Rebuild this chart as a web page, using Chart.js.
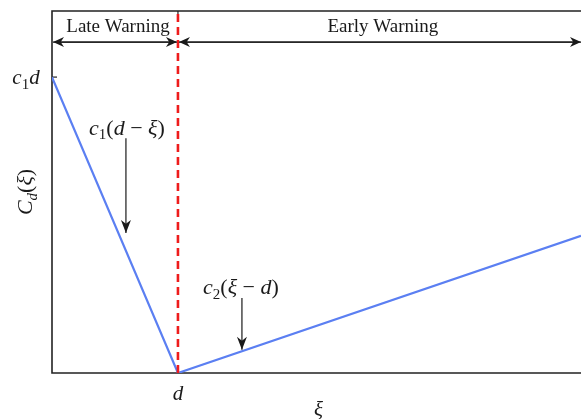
<!DOCTYPE html>
<html><head><meta charset="utf-8">
<script src="https://cdn.jsdelivr.net/npm/chart.js@4"></script>
<style>html,body{margin:0;padding:0;background:#fff;overflow:hidden}</style>
</head><body>
<canvas id="c" width="581" height="419"></canvas>
<script>
// ---- data ----
const xiValues   = [0, 1, 4.2];        // xi positions: 0, d, right edge
const costValues = [3, 0, 1.39];       // C_d(xi): c1*d at 0, 0 at d, rising with slope c2
const boundaryX  = [1, 1];             // xi = d (red dashed boundary)
const boundaryY  = [0, 3.67];
const xTickValues = [1];               // label "d"
const yTickValues = [3];               // label "c1 d"
const xMin = 0, xMax = 4.2, yMin = 0, yMax = 3.67;
const regionLabels = ['Late Warning', 'Early Warning'];
const regionLabelX = [0.524, 2.627];
const regionLabelY = 3.507;
const regionArrowY = 3.355;
// annotation arrows and label positions (data units)
const ann1 = {x: 0.587, y0: 2.38, y1: 1.42, ly: 2.49, lx: 0.595};
const ann2 = {x: 1.508, y0: 0.76, y1: 0.235, ly: 0.87, lx: 1.50};

const SERIF = '"Liberation Serif","DejaVu Serif",serif';
function richText(ctx, parts, cx, cy, size, align) {
  const fonts = {
    i: `italic ${size}px ${SERIF}`,
    r: `${size}px ${SERIF}`,
    s: `${Math.round(size*0.7)}px ${SERIF}`,
    si: `italic ${Math.round(size*0.7)}px ${SERIF}`
  };
  let total = 0;
  const widths = parts.map(p => { ctx.font = fonts[p[1]]; const w = ctx.measureText(p[0]).width; total += w; return w; });
  let x = align === 'left' ? cx : cx - total/2;
  ctx.textBaseline = 'alphabetic';
  ctx.textAlign = 'left';
  const base = cy + size*0.33;
  parts.forEach((p, i) => {
    ctx.font = fonts[p[1]];
    const dy = (p[1] === 's' || p[1] === 'si') ? size*0.22 : 0;
    ctx.fillText(p[0], x, base + dy);
    x += widths[i];
  });
}
function arrowHead(ctx, x, y, ang, len, half) {
  ctx.save();
  ctx.translate(x, y); ctx.rotate(ang);
  ctx.beginPath();
  ctx.moveTo(0, 0);
  ctx.lineTo(-len, -half);
  ctx.lineTo(-len*0.7, 0);
  ctx.lineTo(-len, half);
  ctx.closePath();
  ctx.fill();
  ctx.restore();
}
function arrow(ctx, x1, y1, x2, y2, len, half) {
  ctx.beginPath(); ctx.moveTo(x1, y1); ctx.lineTo(x2, y2); ctx.stroke();
  arrowHead(ctx, x2, y2, Math.atan2(y2-y1, x2-x1), len || 11, half || 5);
}

const frame = {
  id: 'frame',
  beforeDatasetsDraw(chart) {
    const {ctx, chartArea: a, scales: {x, y}} = chart;
    ctx.save();
    ctx.strokeStyle = '#222'; ctx.lineWidth = 1.6;
    ctx.beginPath();
    ctx.moveTo(a.right + 2, a.top); ctx.lineTo(a.left, a.top); ctx.lineTo(a.left, a.bottom); ctx.lineTo(a.right + 2, a.bottom);
    ctx.stroke();
    ctx.lineWidth = 1.2;
    yTickValues.forEach(v => { const py = y.getPixelForValue(v); ctx.beginPath(); ctx.moveTo(a.left, py); ctx.lineTo(a.left + 5, py); ctx.stroke(); });
    xTickValues.forEach(v => { const px = x.getPixelForValue(v); ctx.beginPath(); ctx.moveTo(px, a.top); ctx.lineTo(px, a.top + 5); ctx.stroke(); });
    ctx.restore();
  },
  afterDatasetsDraw(chart) {
    const {ctx, chartArea: a, scales: {x, y}} = chart;
    ctx.save();
    ctx.fillStyle = '#1a1a1a'; ctx.strokeStyle = '#1a1a1a';
    ctx.lineWidth = 1.3;
    const ay = y.getPixelForValue(regionArrowY);
    const xd = x.getPixelForValue(boundaryX[0]);
    arrow(ctx, xd - 2, ay, a.left + 1, ay);
    arrow(ctx, a.left + 3, ay, xd - 1, ay);
    arrow(ctx, a.right - 3, ay, xd + 1, ay);
    arrow(ctx, xd + 3, ay, a.right, ay);
    ctx.font = `19px ${SERIF}`; ctx.textAlign = 'center'; ctx.textBaseline = 'middle';
    regionLabels.forEach((t, i) => ctx.fillText(t, x.getPixelForValue(regionLabelX[i]), y.getPixelForValue(regionLabelY)));
    ctx.lineWidth = 1.2;
    [ann1, ann2].forEach(n => arrow(ctx, x.getPixelForValue(n.x), y.getPixelForValue(n.y0), x.getPixelForValue(n.x), y.getPixelForValue(n.y1), 13, 5));
    richText(ctx, [['c','i'],['1','s'],['(','r'],['d','i'],[' \u2212 ','r'],['\u03BE','i'],[')','r']], x.getPixelForValue(ann1.lx), y.getPixelForValue(ann1.ly), 22);
    richText(ctx, [['c','i'],['2','s'],['(','r'],['\u03BE','i'],[' \u2212 ','r'],['d','i'],[')','r']], x.getPixelForValue(ann2.lx), y.getPixelForValue(ann2.ly), 22);
    xTickValues.forEach(v => richText(ctx, [['d','i']], x.getPixelForValue(v), a.bottom + 20, 21));
    yTickValues.forEach(v => richText(ctx, [['c','i'],['1','s'],['d','i']], 26, y.getPixelForValue(v), 21));
    richText(ctx, [['\u03BE','i']], (a.left + 581) / 2 + 2, a.bottom + 36, 21);
    ctx.translate(25, (a.top + a.bottom) / 2);
    ctx.rotate(-Math.PI / 2);
    richText(ctx, [['C','i'],['d','si'],['(','r'],['\u03BE','i'],[')','r']], 0, 0, 22);
    ctx.restore();
  }
};

new Chart(document.getElementById('c'), {
  type: 'scatter',
  data: {
    datasets: [
      {
        data: xiValues.map((v, i) => ({x: v, y: costValues[i]})),
        showLine: true, borderColor: '#5b7ff2', borderWidth: 2.2, pointRadius: 0, fill: false, order: 2
      },
      {
        data: boundaryX.map((v, i) => ({x: v, y: boundaryY[i]})),
        showLine: true, borderColor: '#ee1c1c', borderWidth: 2.6, borderDash: [8, 5], pointRadius: 0, fill: false, order: 1
      }
    ]
  },
  options: {
    responsive: false, animation: false, devicePixelRatio: 1,
    layout: {padding: {left: 52, top: 11, right: 0, bottom: 46}},
    plugins: {legend: {display: false}, tooltip: {enabled: false}},
    scales: {
      x: {type: 'linear', min: xMin, max: xMax, display: false},
      y: {type: 'linear', min: yMin, max: yMax, display: false}
    }
  },
  plugins: [frame]
});
</script>
</body></html>
